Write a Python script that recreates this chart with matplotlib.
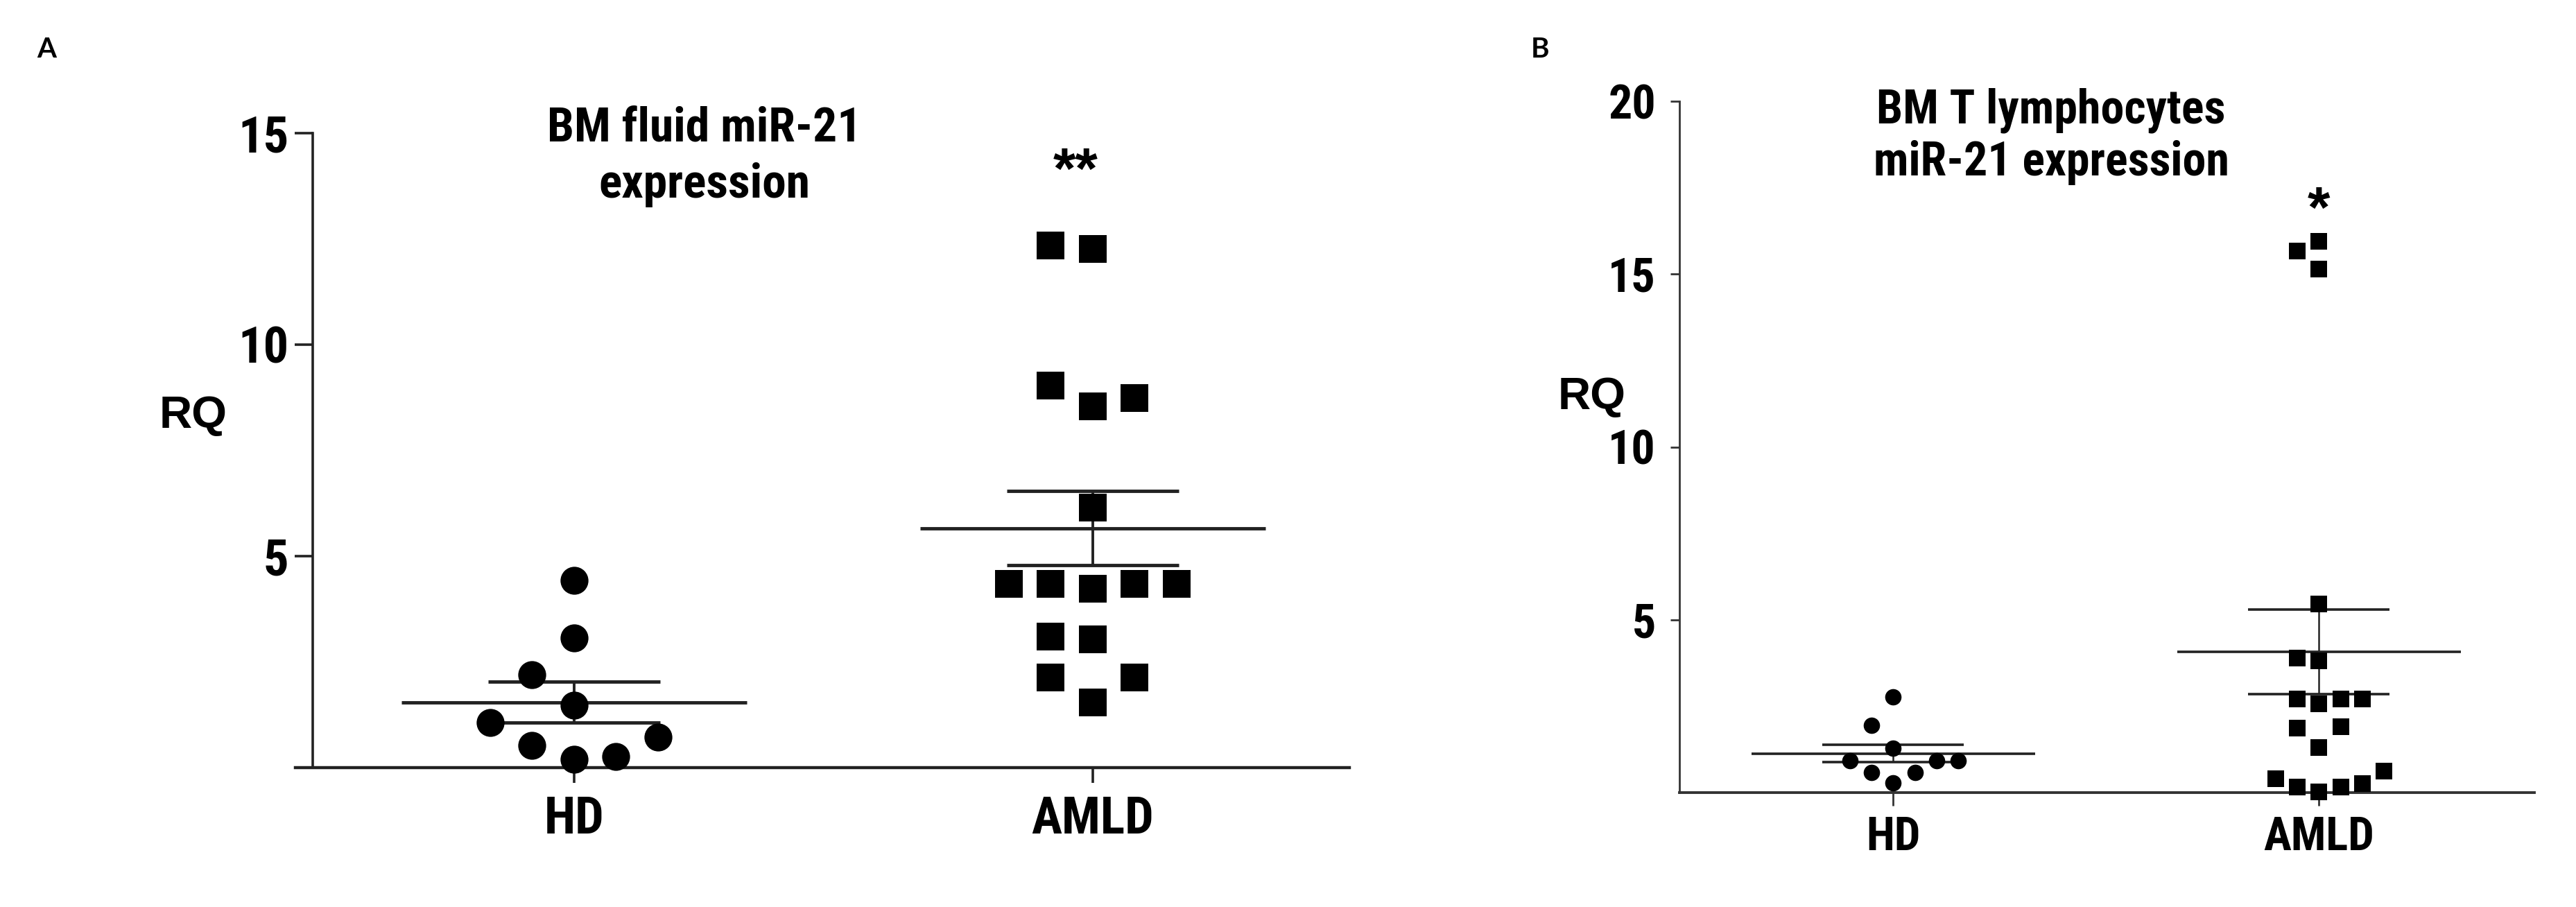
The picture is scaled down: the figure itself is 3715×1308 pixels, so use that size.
import matplotlib
matplotlib.use("Agg")
import matplotlib.pyplot as plt
import numpy as np

plt.rcParams['font.family'] = ['Roboto Condensed', 'DejaVu Sans']
plt.rcParams['font.weight'] = 'bold'

# Panel A: BM fluid miR-21 expression (RQ)
groups = ["HD", "AMLD"]
hd_fluid = [4.43, 3.07, 2.20, 1.47, 1.06, 0.72, 0.52, 0.20, 0.27]
hd_fluid_slot = [0, 0, -1, 0, -2, 2, -1, 0, 1]
amld_fluid = [12.35, 12.27, 9.04, 8.54, 8.73, 6.14,
              4.34, 4.34, 4.23, 4.34, 4.34, 3.10, 3.04, 2.13, 2.13, 1.54]
amld_fluid_slot = [-1, 0, -1, 0, 1, 0, -2, -1, 0, 1, 2, -1, 0, -1, 1, 0]

# Panel B: BM T lymphocytes miR-21 expression (RQ)
hd_tcell = [2.76, 1.95, 1.29, 0.92, 0.92, 0.92, 0.58, 0.58, 0.28]
hd_tcell_slot = [0, -1, 0, -2, 2, 3, -1, 1, 0]
amld_tcell = [15.94, 15.66, 15.15, 5.45, 3.89, 3.82, 2.71, 2.57, 2.71, 2.71,
              1.87, 1.90, 1.30, 0.40, 0.16, 0.02, 0.16, 0.26, 0.62]
amld_tcell_slot = [0, -1, 0, 0, -1, 0, -1, 0, 1, 2, -1, 1, 0, -2, -1, 0, 1, 2, 3]

W, H = 3716, 1308


def px(x, y):
    return x / W, 1 - y / H


def draw_group(ax, xc, vals, slots, step, marker, ms, lw_line, lw_vert):
    vals = np.array(vals)
    x = xc + np.array(slots) * step
    ax.plot(x, vals, linestyle='none', marker=marker, ms=ms, color='black',
            markeredgewidth=0, clip_on=False, zorder=4)
    m = vals.mean()
    se = vals.std(ddof=1) / np.sqrt(len(vals))
    ax.hlines(m, xc - 0.333, xc + 0.333, color='#222222', lw=lw_line, zorder=3)
    ax.hlines([m - se, m + se], xc - 0.166, xc + 0.166, color='#222222',
              lw=lw_line, zorder=3)
    ax.vlines(xc, m - se, m + se, color='#222222', lw=lw_vert, zorder=3)


fig = plt.figure(figsize=(W / 100, H / 100), dpi=100)

# ---- panel A
axA = fig.add_axes([426 / W, 1 - 1107 / H, (1946 - 426) / W, (1107 - 192) / H])
axA.set_xlim(-0.537, 1.495)
axA.set_ylim(0, 15)
axA.spines['left'].set_position(('data', -0.503))
for s in ['top', 'right']:
    axA.spines[s].set_visible(False)
axA.spines['left'].set_linewidth(2.6)
axA.spines['bottom'].set_linewidth(3.2)
axA.spines['left'].set_color('#222222')
axA.spines['bottom'].set_color('#222222')
axA.set_xticks([0, 1])
axA.set_xticklabels(groups)
axA.set_yticks([5, 10, 15])
axA.tick_params(axis='y', length=19, width=2.6, pad=6, labelsize=52, color='#222222')
axA.tick_params(axis='x', length=16, width=2.6, pad=13, labelsize=53, color='#222222')

draw_group(axA, 0, hd_fluid, hd_fluid_slot, 0.081, 'o', 29, 3.5, 2.8)
draw_group(axA, 1, amld_fluid, amld_fluid_slot, 0.081, 's', 29, 3.5, 2.8)

# ---- panel B
axB = fig.add_axes([2422 / W, 1 - 1143 / H, (3655 - 2422) / W, (1143 - 146) / H])
axB.set_xlim(-0.502, 1.506)
axB.set_ylim(0, 20)
for s in ['top', 'right']:
    axB.spines[s].set_visible(False)
axB.spines['left'].set_linewidth(2.0)
axB.spines['bottom'].set_linewidth(2.8)
axB.spines['left'].set_color('#333333')
axB.spines['bottom'].set_color('#333333')
axB.set_xticks([0, 1])
axB.set_xticklabels(groups)
axB.set_yticks([5, 10, 15, 20])
axB.tick_params(axis='y', length=9.5, width=2.0, pad=15, labelsize=49, color='#333333')
axB.tick_params(axis='x', length=14, width=2.0, pad=10, labelsize=48, color='#333333')

draw_group(axB, 0, hd_tcell, hd_tcell_slot, 0.051, 'o', 17, 2.6, 1.8)
draw_group(axB, 1, amld_tcell, amld_tcell_slot, 0.051, 's', 17, 2.6, 1.8)

# ---- texts
fig.text(*px(1016, 203), "BM fluid miR-21", ha='center', va='baseline', fontsize=50)
fig.text(*px(1016, 285), "expression", ha='center', va='baseline', fontsize=50)
fig.text(*px(2958, 177), "BM T lymphocytes", ha='center', va='baseline', fontsize=49)
fig.text(*px(2958, 253), "miR-21 expression", ha='center', va='baseline', fontsize=49)

fig.text(*px(279, 617), "RQ", ha='center', va='baseline', fontsize=47,
         family='Liberation Sans')
fig.text(*px(2296, 590), "RQ", ha='center', va='baseline', fontsize=47,
         family='Liberation Sans')

fig.text(*px(1551, 250), "**", ha='center', va='center', fontsize=60,
         family='Liberation Sans')
fig.text(*px(3344, 306), "*", ha='center', va='center', fontsize=60,
         family='Liberation Sans')

fig.text(*px(67, 83), "A", ha='center', va='baseline', fontsize=29, family='Lato')
fig.text(*px(2221, 83), "B", ha='center', va='baseline', fontsize=29, family='Lato')

fig.savefig("out.png", dpi=100, facecolor='white')
